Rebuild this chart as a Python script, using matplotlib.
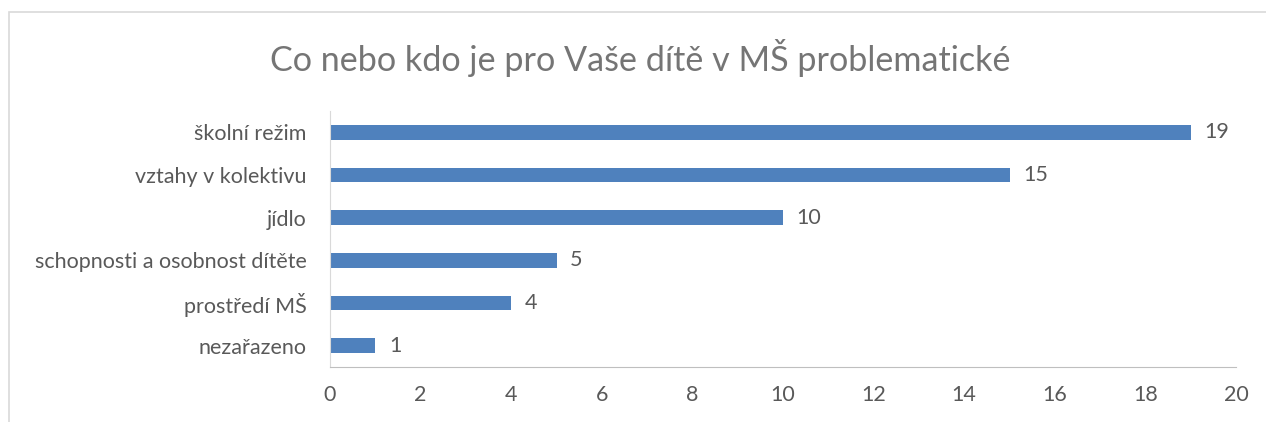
import matplotlib
matplotlib.use('Agg')
import matplotlib.pyplot as plt
from matplotlib.patches import Rectangle

# data (top to bottom as shown)
categories = ['školní režim', 'vztahy v kolektivu', 'jídlo',
              'schopnosti a osobnost dítěte', 'prostředí MŠ', 'nezařazeno']
counts = [19, 15, 10, 5, 4, 1]
x_ticks = [0, 2, 4, 6, 8, 10, 12, 14, 16, 18, 20]
title = 'Co nebo kdo je pro Vaše dítě v MŠ problematické'

plt.rcParams['font.family'] = ['Lato', 'DejaVu Sans']
grey = '#595959'
bar_color = '#4F81BD'

W, H = 1266, 422
fig = plt.figure(figsize=(W / 100, H / 100), dpi=100)

# chart border (partly cut by the image edge)
fig.patches.append(Rectangle((9 / W, -0.1), 1.2, (H - 12) / H + 0.1,
                             transform=fig.transFigure, fill=False,
                             edgecolor='#D9D9D9', linewidth=1.2))

ax = fig.add_axes([330 / W, (H - 367) / H, (1236 - 330) / W, (367 - 111) / H])

y = list(range(len(categories)))[::-1]
ax.barh(y, counts, height=0.35, color=bar_color)
for yi, v in zip(y, counts):
    ax.text(v + 0.3, yi, str(v), va='center', ha='left', fontsize=15.5, color=grey)

ax.set_xlim(0, 20)
ax.set_ylim(-0.5, len(categories) - 0.5)
ax.set_xticks(x_ticks)
ax.set_yticks(y)
ax.set_yticklabels(categories)
ax.tick_params(axis='both', length=0, labelsize=15.5, labelcolor=grey)
ax.tick_params(axis='y', pad=17)
ax.tick_params(axis='x', pad=13)

for s in ['top', 'right']:
    ax.spines[s].set_visible(False)
ax.spines['left'].set_color('#D9D9D9')
ax.spines['bottom'].set_color('#BFBFBF')

fig.text(640 / W, (H - 58) / H, title, ha='center', va='center',
         fontsize=24.6, color='#757575')

fig.savefig('out.png', dpi=100)
